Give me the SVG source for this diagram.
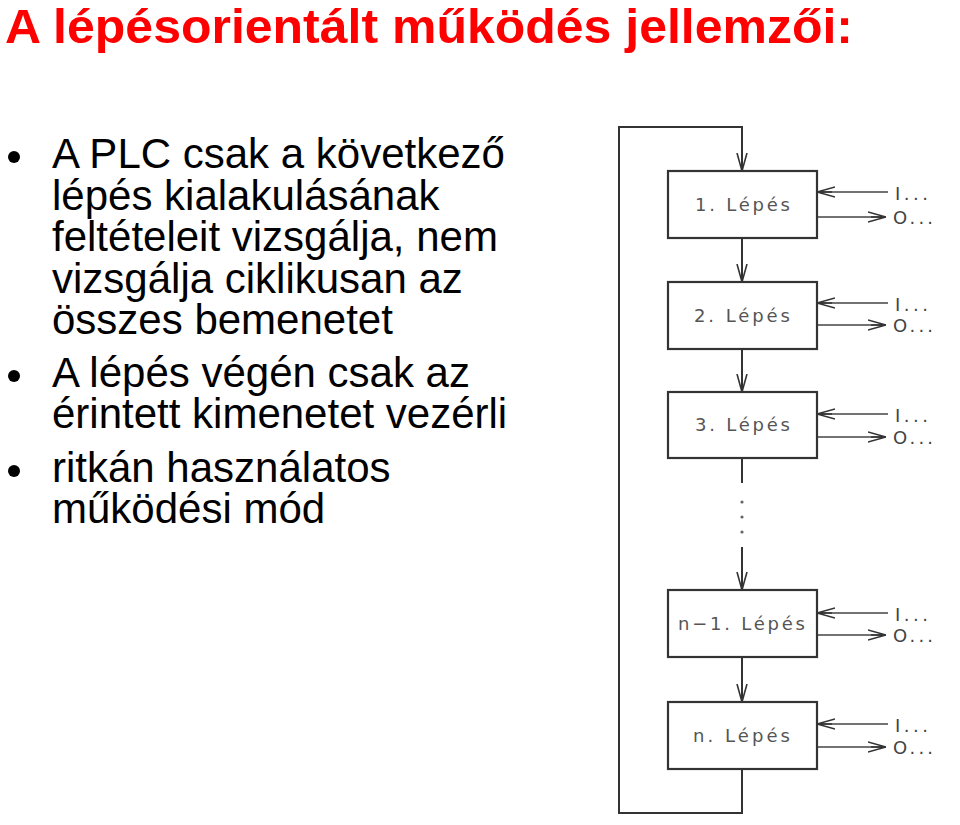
<svg xmlns="http://www.w3.org/2000/svg" width="960" height="825" viewBox="0 0 960 825">
<style>
.title{font-family:"Liberation Sans",Arial,sans-serif;font-weight:bold;font-size:49px;fill:#ff0000}
.body{font-family:"Liberation Sans",Arial,sans-serif;font-size:42px;fill:#000}
.box rect{fill:#fff;stroke:#333;stroke-width:2.2}
.lbl{font-family:"DejaVu Sans",sans-serif;font-size:18px;fill:#555}
.io{font-family:"DejaVu Sans",sans-serif;font-size:18px;fill:#444}
.ln{fill:none;stroke:#333;stroke-width:2}
.ln2{fill:none;stroke:#444;stroke-width:1.6}
</style>
<defs>
<marker id="ah" viewBox="0 0 18 12" refX="18" refY="6" markerWidth="18" markerHeight="12" markerUnits="userSpaceOnUse" orient="auto">
<path d="M0,1 L18,6 L0,11 M3,6 L18,6" fill="none" stroke="#333" stroke-width="1.6"/>
</marker>
</defs>
<rect width="960" height="825" fill="#fff"/>
<text class="title" x="5" y="43" textLength="848" lengthAdjust="spacingAndGlyphs">A lépésorientált működés jellemzői:</text>
<g id="bullets">
<circle cx="14" cy="157" r="6" fill="#000"/>
<circle cx="14" cy="376" r="6" fill="#000"/>
<circle cx="14" cy="471" r="6" fill="#000"/>
<text class="body" x="52"><tspan x="52" y="168">A PLC csak a következő</tspan><tspan x="52" y="209.5">lépés kialakulásának</tspan><tspan x="52" y="251">feltételeit vizsgálja, nem</tspan><tspan x="52" y="292.5">vizsgálja ciklikusan az</tspan><tspan x="52" y="334">összes bemenetet</tspan><tspan x="52" y="387">A lépés végén csak az</tspan><tspan x="52" y="428">érintett kimenetet vezérli</tspan><tspan x="52" y="482">ritkán használatos</tspan><tspan x="52" y="523">működési mód</tspan></text>
</g>
<g id="connectors">
<path class="ln" d="M742,769 V813 H619 V127 H742 V171" marker-end="url(#ah)"/>
<path class="ln" d="M742,238 V282" marker-end="url(#ah)"/>
<path class="ln" d="M742,349 V392" marker-end="url(#ah)"/>
<path class="ln" d="M742,458 V483"/>
<circle cx="742" cy="502" r="1.6" fill="#666"/>
<circle cx="742" cy="517" r="1.6" fill="#666"/>
<circle cx="742" cy="532" r="1.6" fill="#666"/>
<path class="ln" d="M742,547 V590" marker-end="url(#ah)"/>
<path class="ln" d="M742,657 V702" marker-end="url(#ah)"/>
<path class="ln2" d="M888,192 H817" marker-end="url(#ah)"/>
<path class="ln2" d="M817,217 H886" marker-end="url(#ah)"/>
<path class="ln2" d="M888,303 H817" marker-end="url(#ah)"/>
<path class="ln2" d="M817,325 H886" marker-end="url(#ah)"/>
<path class="ln2" d="M888,414 H817" marker-end="url(#ah)"/>
<path class="ln2" d="M817,437 H886" marker-end="url(#ah)"/>
<path class="ln2" d="M888,613 H817" marker-end="url(#ah)"/>
<path class="ln2" d="M817,635 H886" marker-end="url(#ah)"/>
<path class="ln2" d="M888,724 H817" marker-end="url(#ah)"/>
<path class="ln2" d="M817,747 H886" marker-end="url(#ah)"/>
</g>
<g id="step1" class="box"><rect x="668" y="171" width="149" height="67"/><text class="lbl" x="695" y="211" textLength="95">1.  Lépés</text><text class="io" x="895" y="200" textLength="33">I...</text><text class="io" x="893" y="224" textLength="40">O...</text></g>
<g id="step2" class="box"><rect x="668" y="282" width="149" height="67"/><text class="lbl" x="694" y="322" textLength="96">2.  Lépés</text><text class="io" x="895" y="311" textLength="33">I...</text><text class="io" x="893" y="332" textLength="40">O...</text></g>
<g id="step3" class="box"><rect x="668" y="392" width="149" height="66"/><text class="lbl" x="695" y="431" textLength="95">3.  Lépés</text><text class="io" x="895" y="422" textLength="33">I...</text><text class="io" x="893" y="444" textLength="40">O...</text></g>
<g id="stepn1" class="box"><rect x="668" y="590" width="149" height="67"/><text class="lbl" x="678" y="630" textLength="127">n−1.  Lépés</text><text class="io" x="895" y="621" textLength="33">I...</text><text class="io" x="893" y="642" textLength="40">O...</text></g>
<g id="stepn" class="box"><rect x="668" y="702" width="149" height="67"/><text class="lbl" x="693" y="742" textLength="97">n.  Lépés</text><text class="io" x="895" y="732" textLength="33">I...</text><text class="io" x="893" y="754" textLength="40">O...</text></g>
</svg>
